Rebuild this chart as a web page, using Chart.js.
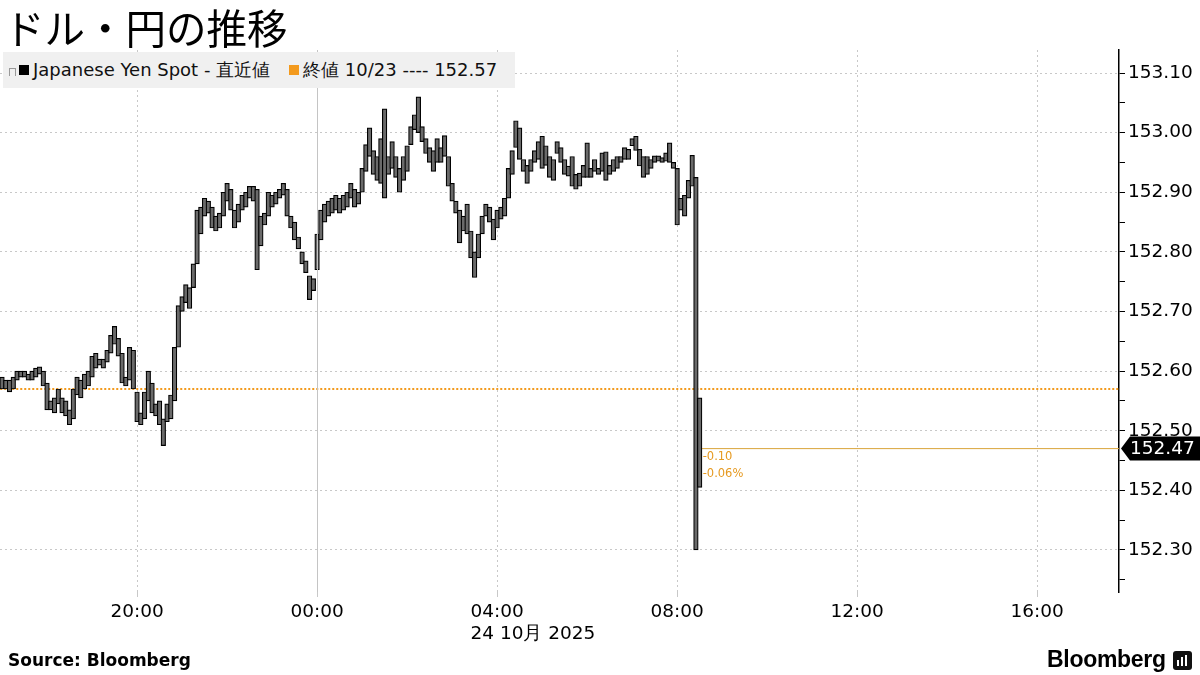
<!DOCTYPE html>
<html>
<head>
<meta charset="utf-8">
<script src="https://cdn.jsdelivr.net/npm/chart.js@4.4.1/dist/chart.umd.min.js"></script>
<style>
  html, body { margin: 0; padding: 0; background: #fff; }
  #wrap { position: relative; width: 1200px; height: 675px; overflow: hidden; font-family: 'DejaVu Sans', sans-serif; }
  #chartBox { position: absolute; left: 0; top: 0; width: 1200px; height: 675px; }
  #title { position: absolute; left: 4px; top: -3px; font-family: 'Noto Sans CJK JP', sans-serif; font-size: 40.5px; color: #000; white-space: nowrap; }
  #legend { position: absolute; left: 3px; top: 52px; width: 512px; height: 36px; background: #f0f0f0; font-size: 18px; color: #111; display: flex; align-items: center; white-space: nowrap; }
  #legend .sq { display: inline-block; width: 10px; height: 10px; margin-right: 4px; }
  #legend .ico { display: inline-block; width: 5px; height: 7px; border: 1px solid #999; border-bottom: none; margin: 0 3px 0 6px; position: relative; top: 2px; }
  #source { position: absolute; left: 8px; top: 650px; font-size: 17px; font-weight: bold; color: #000; }
  #logo { position: absolute; left: 1047px; top: 646px; font-family: 'Liberation Sans', sans-serif; font-weight: bold; font-size: 23px; color: #000; letter-spacing: -0.3px; }
  #logoIcon { position: absolute; left: 1173px; top: 651px; width: 19px; height: 19px; background: #111; border-radius: 3px; }
  #logoIcon i { position: absolute; bottom: 4px; width: 2px; background: #fff; }
</style>
</head>
<body>
<div id="wrap">
  <div id="chartBox"><canvas id="chart"></canvas></div>
  <div id="title">ドル・円の推移</div>
  <div id="legend">
    <span class="ico"></span><span class="sq" style="background:#000"></span>Japanese Yen Spot - 直近値
    <span class="sq" style="background:#f39a1d;margin-left:19px"></span>終値 10/23 ---- 152.57
  </div>
  <div id="source">Source: Bloomberg</div>
  <div id="logo">Bloomberg</div>
  <div id="logoIcon"><i style="left:4px;height:6px"></i><i style="left:8px;height:9px"></i><i style="left:12px;height:11px"></i></div>
</div>
<script>
// 5-minute bars starting 17:00 on 10/23 (minutes since 17:00)
const barStep = 5;
const lows = [
  152.570,152.570,152.565,152.570,152.585,152.590,152.590,152.585,152.585,152.590,
  152.595,152.575,152.535,152.535,152.530,152.545,152.530,152.525,152.510,152.520,
  152.560,152.555,152.570,152.575,152.590,152.605,152.610,152.605,152.615,152.630,
  152.645,152.625,152.580,152.575,152.585,152.570,152.515,152.510,152.520,152.550,
  152.530,152.525,152.510,152.475,152.515,152.520,152.550,152.640,152.700,152.715,
  152.705,152.740,152.780,152.830,152.860,152.865,152.840,152.835,152.840,152.860,
  152.885,152.870,152.840,152.850,152.870,152.875,152.890,152.885,152.770,152.810,
  152.845,152.860,152.875,152.880,152.890,152.895,152.860,152.840,152.820,152.805,
  152.780,152.765,152.720,152.735,152.770,152.820,152.850,152.860,152.865,152.870,
  152.865,152.870,152.875,152.890,152.875,152.880,152.900,152.935,152.960,152.930,
  152.920,152.915,152.890,152.930,152.940,152.925,152.900,152.920,152.935,152.980,
  153.005,153.000,152.985,152.965,152.950,152.935,152.950,152.950,152.960,152.910,
  152.885,152.865,152.815,152.835,152.830,152.790,152.757,152.790,152.830,152.860,
  152.850,152.820,152.840,152.855,152.860,152.890,152.930,152.975,152.955,152.935,
  152.915,152.935,152.950,152.955,152.940,152.945,152.925,152.920,152.965,152.950,
  152.930,152.927,152.910,152.905,152.910,152.925,152.925,152.925,152.935,152.930,
  152.935,152.920,152.930,152.935,152.940,152.950,152.955,152.955,152.978,152.970,
  152.944,152.925,152.930,152.940,152.950,152.952,152.950,152.952,152.950,152.940,
  152.845,152.870,152.860,152.890,152.910,152.300,152.405
];
const highs = [
  152.590,152.585,152.585,152.590,152.600,152.600,152.600,152.595,152.600,152.605,
  152.607,152.600,152.580,152.550,152.555,152.570,152.555,152.550,152.535,152.570,
  152.590,152.585,152.595,152.600,152.625,152.630,152.620,152.620,152.635,152.660,
  152.675,152.655,152.630,152.590,152.640,152.635,152.565,152.530,152.565,152.600,
  152.580,152.545,152.550,152.520,152.545,152.560,152.640,152.710,152.725,152.745,
  152.740,152.780,152.870,152.875,152.890,152.885,152.875,152.860,152.865,152.900,
  152.915,152.905,152.870,152.880,152.895,152.900,152.910,152.910,152.905,152.860,
  152.865,152.900,152.895,152.900,152.905,152.915,152.905,152.860,152.850,152.825,
  152.800,152.785,152.760,152.755,152.830,152.870,152.880,152.885,152.890,152.895,
  152.890,152.895,152.900,152.915,152.905,152.900,152.940,152.980,153.008,152.970,
  152.960,152.990,153.040,152.960,152.985,152.960,152.940,152.960,152.978,153.010,
  153.030,153.060,153.010,152.990,152.975,152.970,152.990,152.975,152.995,152.960,
  152.915,152.885,152.870,152.860,152.880,152.835,152.800,152.830,152.860,152.880,
  152.875,152.855,152.870,152.875,152.890,152.940,152.970,153.020,153.008,152.955,
  152.945,152.955,152.970,152.985,152.994,152.978,152.960,152.955,152.985,152.975,
  152.955,152.944,152.960,152.930,152.932,152.945,152.983,152.940,152.955,152.940,
  152.966,152.968,152.945,152.955,152.960,152.960,152.975,152.972,152.990,152.994,
  152.972,152.960,152.960,152.955,152.961,152.961,152.958,152.966,152.983,152.950,
  152.940,152.890,152.895,152.920,152.962,152.925,152.555
];
const prevClose = 152.57;
const lastPrice = 152.47;
const changeLabels = ['-0.10', '-0.06%'];
const xTickMinutes = [180, 420, 660, 900, 1140, 1380];
const dateLabel = '24 10月 2025';
const xMin = -2.7, xMax = 1489;
const yMin = 152.2295, yMax = 153.1386;

const bars = lows.map((lo, i) => ({ x: i * barStep, y: [lo, highs[i]] }));
const lastX = (lows.length - 1) * barStep;

function hhmm(v) {
  const h = Math.floor((17 * 60 + v) / 60) % 24;
  return String(h).padStart(2, '0') + ':00';
}

const axisFont = '18.5px "DejaVu Sans"';

const overlay = {
  id: 'overlay',
  afterDraw(chart) {
    const ctx = chart.ctx;
    const xs = chart.scales.x, ys = chart.scales.y;
    const area = chart.chartArea;
    // solid day divider at 00:00
    ctx.save();
    ctx.strokeStyle = '#c4c4c4';
    ctx.lineWidth = 1;
    const dx = Math.round(xs.getPixelForValue(420)) + 0.5;
    ctx.beginPath(); ctx.moveTo(dx, area.top); ctx.lineTo(dx, area.bottom); ctx.stroke();
    // date label under 04:00
    ctx.font = axisFont;
    ctx.fillStyle = '#000';
    ctx.textBaseline = 'middle';
    const w = ctx.measureText(hhmm(660)).width;
    ctx.fillText(dateLabel, xs.getPixelForValue(660) - w / 2, 634);
    // change labels
    const py = ys.getPixelForValue(lastPrice);
    const px = xs.getPixelForValue(lastX) + 3;
    ctx.font = '11.5px "DejaVu Sans"';
    ctx.fillStyle = '#e69a22';
    ctx.fillText(changeLabels[0], px, py + 8);
    ctx.fillText(changeLabels[1], px, py + 25);
    // last price tag
    const tx = area.right + 2;
    ctx.fillStyle = '#000';
    ctx.beginPath();
    ctx.moveTo(tx, py);
    ctx.lineTo(tx + 9, py - 12);
    ctx.lineTo(1200, py - 12);
    ctx.lineTo(1200, py + 12);
    ctx.lineTo(tx + 9, py + 12);
    ctx.closePath();
    ctx.fill();
    ctx.fillStyle = '#fff';
    ctx.font = axisFont;
    ctx.fillText(lastPrice.toFixed(2), tx + 9, py + 1);
    ctx.restore();
  }
};

new Chart(document.getElementById('chart'), {
  type: 'bar',
  data: {
    datasets: [
      {
        type: 'line',
        data: [{ x: xMin - 5, y: prevClose }, { x: xMax + 5, y: prevClose }],
        borderColor: '#f39a1d', borderWidth: 2, borderDash: [2, 2],
        pointRadius: 0, order: 3
      },
      {
        type: 'line',
        data: [{ x: lastX, y: lastPrice }, { x: xMax + 5, y: lastPrice }],
        borderColor: '#d9a43a', borderWidth: 1,
        pointRadius: 0, order: 2
      },
      {
        type: 'bar',
        data: bars,
        backgroundColor: '#6a6a6a',
        borderColor: '#000',
        borderWidth: 1.2,
        borderSkipped: false,
        barThickness: 4.6,
        order: 1
      }
    ]
  },
  options: {
    responsive: true,
    maintainAspectRatio: false,
    animation: false,
    layout: { padding: { top: 50, left: 0, right: 0, bottom: 0 } },
    plugins: { legend: { display: false }, tooltip: { enabled: false } },
    scales: {
      x: {
        type: 'linear',
        offset: false,
        min: xMin, max: xMax,
        afterFit: s => { s.height = 83; },
        afterBuildTicks: s => { s.ticks = xTickMinutes.map(v => ({ value: v })); },
        ticks: {
          autoSkip: false, maxRotation: 0, padding: 4,
          color: '#000', font: { family: 'DejaVu Sans', size: 18.5 },
          callback: v => hhmm(v)
        },
        grid: {
          offset: false,
          color: c => (c.tick && c.tick.value === 420) ? 'rgba(0,0,0,0)' : '#c8c8c8',
          tickColor: '#c8c8c8', tickLength: 5, lineWidth: 1
        },
        border: { display: false, dash: [2, 3] }
      },
      y: {
        position: 'right',
        min: yMin, max: yMax,
        afterFit: s => { s.width = 81; },
        afterBuildTicks: s => {
          const t = [];
          for (let k = 0; k <= 17; k++) t.push({ value: Math.round((152.25 + k * 0.05) * 100) / 100 });
          s.ticks = t;
        },
        ticks: {
          padding: 3, color: '#000', font: { family: 'DejaVu Sans', size: 18.5 },
          callback: v => (Math.round(v * 100) % 10 === 0) ? v.toFixed(2) : ''
        },
        grid: {
          color: c => (c.tick && Math.round(c.tick.value * 100) % 10 === 0) ? '#c8c8c8' : 'rgba(0,0,0,0)',
          tickColor: '#000', tickLength: 6, lineWidth: 1
        },
        border: { display: true, color: '#000', width: 1.5, dash: [2, 3] }
      }
    }
  },
  plugins: [overlay]
});
</script>
</body>
</html>
